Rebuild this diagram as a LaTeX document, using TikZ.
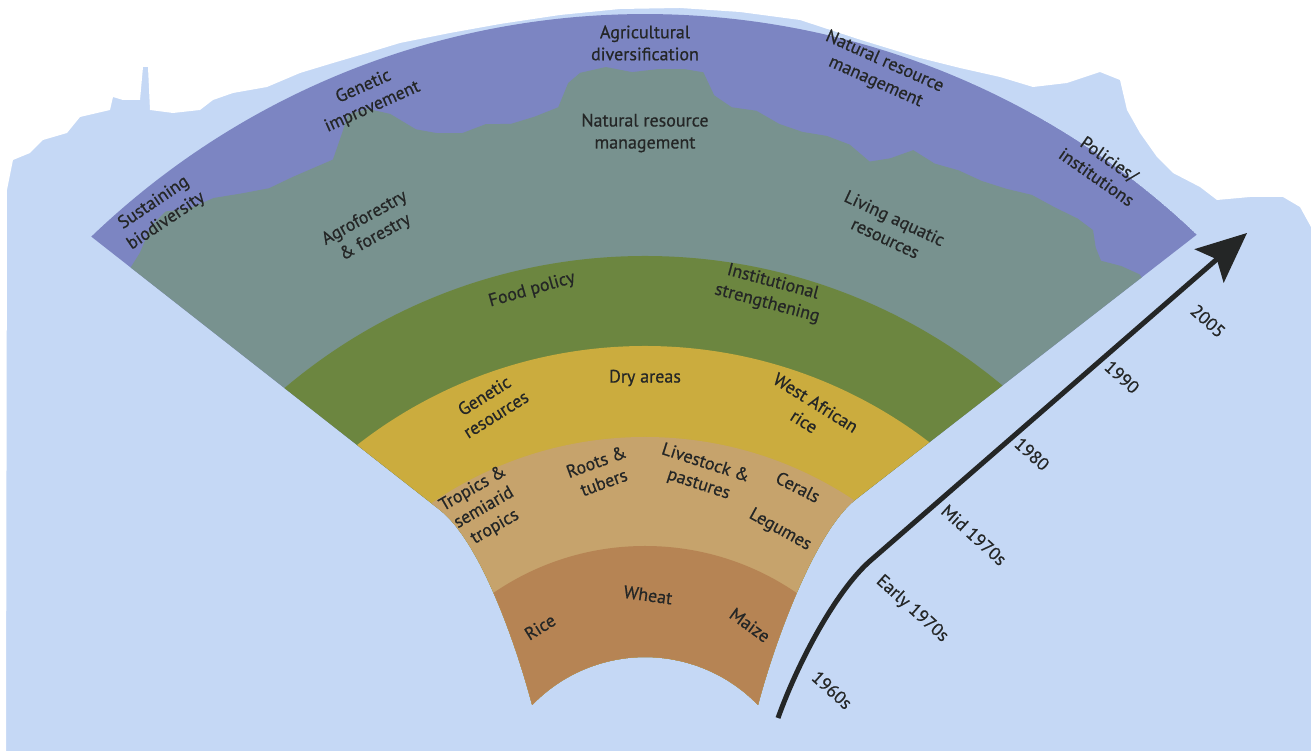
\documentclass[tikz,border=0pt]{standalone}
\usepackage{fontspec}
\setmainfont{PT Sans}[FakeBold=0.6]
\usetikzlibrary{arrows.meta, positioning}

\definecolor{skyblue}{RGB}{197,216,245}
\definecolor{inkgray}{RGB}{36,38,38}
\definecolor{bandpurple}{RGB}{124,133,194}
\definecolor{bandteal}{RGB}{120,146,143}
\definecolor{bandgreen}{RGB}{108,134,64}
\definecolor{bandyellow}{RGB}{203,172,62}
\definecolor{bandtan}{RGB}{198,163,108}
\definecolor{bandbrown}{RGB}{182,132,84}

\begin{document}
\begin{tikzpicture}[
    x=1pt, y=1pt,
    font=\fontsize{18}{22}\selectfont,
    lbl/.style={align=center, text=inkgray, inner sep=0pt},
    yr/.style={text=inkgray, rotate=-42, inner sep=0pt},
    arrow/.style={-{Stealth[length=50pt, width=44pt, inset=10pt]}, line width=5pt, draw=inkgray}
]
  \useasboundingbox (0,0) rectangle (1311,751);
  \fill[skyblue] (0,0) rectangle (1311,751);

  % white wash along the top
  \fill[white] (0,751) -- (1311,751) -- (1311,524) -- (1300,544) -- (1283,554) -- (1250,554)
    -- (1217,551) -- (1200,564) -- (1173,578) -- (1157,594) -- (1140,618) -- (1127,641)
    -- (1120,671) -- (1100,679) -- (1067,668) -- (1033,664) -- (1000,674) -- (960,683)
    -- (920,693) -- (861,711) -- (800,731) -- (740,739) -- (680,743) -- (620,742)
    -- (560,736) -- (500,727) -- (450,718) -- (400,708) -- (367,698) -- (333,688)
    -- (300,678) -- (267,664) -- (233,658) -- (213,651) -- (200,641) -- (173,638)
    -- (150,641) -- (148,684) -- (143,684) -- (140,651) -- (123,651) -- (113,654)
    -- (110,641) -- (80,634) -- (67,618) -- (43,611) -- (30,598) -- (13,591)
    -- (7,561) -- (6,0) -- (0,0) -- cycle;

  % the fan, rings drawn from the outside in
  \begin{scope}[shift={(645,-63)}]
    \clip (133.8:800) arc[start angle=133.8, end angle=46.4, radius=800]
      -- (210,314) .. controls (171,283) and (131,177) .. (113,109)
      arc[start angle=44, end angle=136, radius=157]
      .. controls (-131,177) and (-166,273) .. (-205,304) -- cycle;
    \fill[bandpurple] (0,0) circle[radius=800];
    \fill[bandteal] (0,0) -- plot coordinates {
      (140:760) (134:748) (132:755) (130:768) (128.5:770) (127:758) (125:752)
      (123:740) (121:730) (119:728) (117:726) (115.5:725) (114:745) (113:760)
      (111.5:758) (110:745) (108.5:722) (107:712) (105:705) (103:708) (101:703)
      (99:706) (97:712) (96:735) (95:744) (93:748) (91:742) (89:745) (87:746)
      (85.5:744) (84.5:722) (83:712) (81:712) (79:703) (77:700) (75:702) (73:700)
      (71:690) (69.5:700) (68:716) (66:712) (64:716) (62:717) (60:722) (58:730)
      (56:732) (54:736) (52.5:736) (51.5:724) (50.5:717) (49:726) (47.5:732)
      (46:728) (40:728)} -- cycle;
    \fill[bandgreen] (0,0) circle[radius=558];
    \fill[bandyellow] (0,0) circle[radius=468];
    \fill[bandtan] (0,0) circle[radius=377];
    \fill[bandbrown] (0,0) circle[radius=268];
  \end{scope}

  % outer band
  \node[lbl, rotate=34] (sust) at (160,539) {Sustaining\\biodiversity};
  \node[lbl, rotate=24] (genimp) at (368,654) {Genetic\\improvement};
  \node[lbl] (agdiv) at (645,708) {Agricultural\\diversification};
  \node[lbl, rotate=-24] (nrmout) at (880,679) {Natural resource\\management};
  \node[lbl, rotate=-35] (polic) at (1103,583) {Policies/\\institutions};
  % second band
  \node[lbl, rotate=29] (agrof) at (370,523) {Agroforestry\\\& forestry};
  \node[lbl] (nrmin) at (645,618) {Natural resource\\management};
  \node[lbl, rotate=-25] (living) at (890,523) {Living aquatic\\resources};
  % third band
  \node[lbl, rotate=16] (food) at (532,461) {Food policy};
  \node[lbl, rotate=-15] (instit) at (770,458) {Institutional\\strengthening};
  % fourth band
  \node[lbl, rotate=32] (genres) at (490,346) {Genetic\\resources};
  \node[lbl] (dry) at (645,373) {Dry areas};
  \node[lbl, rotate=-32] (wafr) at (810,339) {West African\\rice};
  % fifth band
  \node[lbl, rotate=30] (tropics) at (484,243) {Tropics \&\\semiarid\\tropics};
  \node[lbl, rotate=20] (roots) at (600,279) {Roots \&\\tubers};
  \node[lbl, rotate=-18] (livest) at (702,277) {Livestock \&\\pastures};
  \node[lbl, rotate=-27] (cerals) at (798,264) {Cerals};
  \node[lbl, rotate=-29] (legumes) at (780,221) {Legumes};
  % inner band
  \node[lbl, rotate=32] (rice) at (540,124) {Rice};
  \node[lbl, rotate=-8] (wheat) at (648,156) {Wheat};
  \node[lbl, rotate=-36] (maize) at (750,126) {Maize};

  % time axis
  \coordinate (t0) at (778,33);
  \coordinate (bend) at (870,190);
  \coordinate (t1) at (1247,518);
  \draw[arrow] (t0) .. controls (798,89) and (836,160) .. (bend) -- (t1);
  \node[yr] (y60) at (832,61) {1960s};
  \node[yr] (y70e) at (912,142) {Early 1970s};
  \node[yr] (y70m) at (974,216) {Mid 1970s};
  \node[yr] (y80) at (1032,297) {1980};
  \node[yr] (y90) at (1122,374) {1990};
  \node[yr] (y05) at (1208,430) {2005};
\end{tikzpicture}
\end{document}
